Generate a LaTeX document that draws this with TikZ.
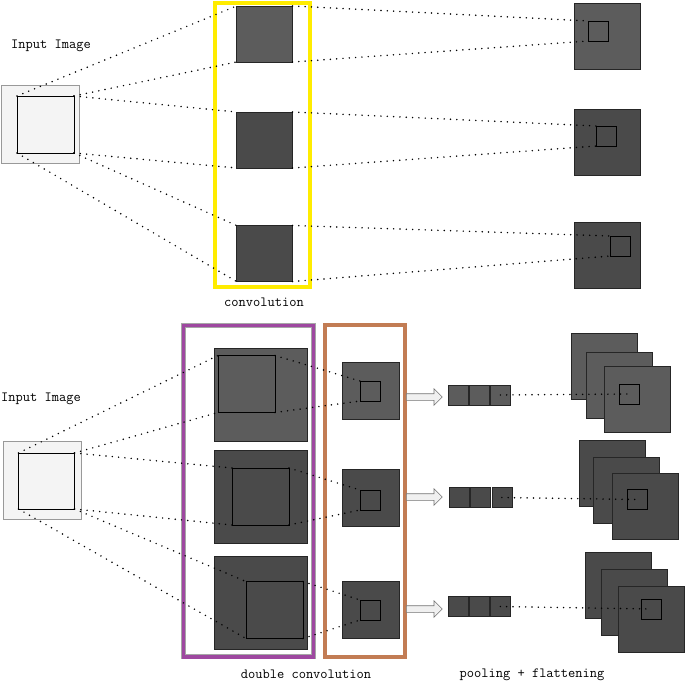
\documentclass[tikz,border=0pt]{standalone}
\usepackage{tikz}
\usetikzlibrary{positioning,shapes.arrows}
\definecolor{mapA}{RGB}{92,92,92}
\definecolor{mapB}{RGB}{74,74,74}
\definecolor{inputbg}{RGB}{244,244,244}
\definecolor{convyellow}{RGB}{255,236,0}
\definecolor{dconv}{RGB}{158,72,160}
\definecolor{poolframe}{RGB}{194,124,84}
\newcommand{\pix}{0.03cm}

\begin{document}
\begin{tikzpicture}[x=\pix,y=-\pix,
    sq/.style={inner sep=0pt,outer sep=0pt,minimum size=#1*\pix},
    inimg/.style={draw=gray!80,fill=inputbg,line width=0.7pt},
    fmap/.style={draw=black!85,fill=#1,line width=0.6pt},
    patch/.style={draw=black,line width=0.8pt},
    frame/.style={draw=gray!70,line width=0.4pt,double=#1,double distance=3.4pt,inner sep=0pt,outer sep=0pt},
    dots/.style={line width=1.4pt,line cap=round,dash pattern=on 0pt off 5.4pt},
    lbl/.style={font=\fontsize{12}{14}\selectfont\ttfamily},
    pool/.style={single arrow,draw=black!55,fill=gray!12,line width=0.5pt,inner sep=3*\pix,
      minimum height=36*\pix,single arrow head extend=5*\pix,anchor=tail}]
  \useasboundingbox (0,0) rectangle (685,682);

  % top: one convolution
  \node[lbl] (titleA) at (51,46) {Input Image};
  \node[sq=78,inimg] (imgA) at (40,124) {};
  \node[sq=57,patch] (winA) at (45.5,124.5) {};
  \node[frame=convyellow,minimum width=95*\pix,minimum height=284*\pix] (convbox) at (262.5,145) {};
  \node[sq=56,fmap=mapA] (c1) at (264.5,34) {};
  \node[sq=56,fmap=mapB] (c2) at (264.5,140) {};
  \node[sq=56,fmap=mapB] (c3) at (264.5,253.5) {};
  \node[lbl] (convlbl) at (264,302) {convolution};
  \node[sq=66,fmap=mapA] (f1) at (607,36) {};
  \node[sq=66,fmap=mapB] (f2) at (607,142) {};
  \node[sq=66,fmap=mapB] (f3) at (607,255.5) {};
  \node[sq=20,patch] (p1) at (598.5,31) {};
  \node[sq=20,patch] (p2) at (606.5,136) {};
  \node[sq=20,patch] (p3) at (620.5,246) {};

  \draw[dots] (winA.north west) -- (c1.north west);
  \draw[dots] (winA.north east) -- (c1.south west);
  \draw[dots] (winA.north east) -- (c2.north west);
  \draw[dots] (winA.south east) -- (c2.south west);
  \draw[dots] (winA.south east) -- (c3.north west);
  \draw[dots] (winA.south west) -- (c3.south west);
  \draw[dots] (c1.north east) -- (p1.north west);
  \draw[dots] (c1.south east) -- (p1.south west);
  \draw[dots] (c2.north east) -- (p2.north west);
  \draw[dots] (c2.south east) -- (p2.south west);
  \draw[dots] (c3.north east) -- (p3.north west);
  \draw[dots] (c3.south east) -- (p3.south west);

  % bottom: double convolution, pooling and flattening
  \node[lbl] (titleB) at (41,399) {Input Image};
  \node[sq=78,inimg] (imgB) at (42.5,480.5) {};
  \node[sq=56,patch] (winB) at (46.5,481) {};
  \node[frame=dconv,minimum width=130*\pix,minimum height=331*\pix] (dconvbox) at (248.5,491) {};
  \node[frame=poolframe,minimum width=80*\pix,minimum height=332*\pix] (poolbox) at (365,491) {};
  \node[sq=93,fmap=mapA] (b1) at (260.5,394.5) {};
  \node[sq=93,fmap=mapB] (b2) at (260.5,497) {};
  \node[sq=93,fmap=mapB] (b3) at (260.5,602.5) {};
  \node[sq=57,patch] (w1) at (246.5,384) {};
  \node[sq=57,patch] (w2) at (260.5,496.5) {};
  \node[sq=57,patch] (w3) at (274.5,610) {};
  \node[sq=57,fmap=mapA] (s1) at (370.5,391) {};
  \node[sq=57,fmap=mapB] (s2) at (370.5,497.5) {};
  \node[sq=57,fmap=mapB] (s3) at (370.5,610) {};
  \node[sq=20,patch] (q1) at (370,391) {};
  \node[sq=20,patch] (q2) at (370,500) {};
  \node[sq=20,patch] (q3) at (370,610) {};
  \node[lbl] (dconvlbl) at (306,674) {double convolution};

  \node[pool] (arr1) at (406,397) {};
  \node[pool] (arr2) at (406,497) {};
  \node[pool] (arr3) at (406,609) {};

  \node[sq=20,fmap=mapA] (v11) at (458,395) {};
  \node[sq=20,fmap=mapA,right=1pt of v11] (v12) {};
  \node[sq=20,fmap=mapA,right=1pt of v12] (v13) {};
  \node[sq=20,fmap=mapB] (v21) at (459.5,497.5) {};
  \node[sq=20,fmap=mapB,right=1pt of v21] (v22) {};
  \node[sq=20,fmap=mapB,right=1pt of v22] (v23) {};
  \node[sq=20,fmap=mapB] (v31) at (458,606.5) {};
  \node[sq=20,fmap=mapB,right=1pt of v31] (v32) {};
  \node[sq=20,fmap=mapB,right=1pt of v32] (v33) {};

  \node[sq=66,fmap=mapA] (m1a) at (604,366.5) {};
  \node[sq=66,fmap=mapA] (m1b) at (619,385) {};
  \node[sq=66,fmap=mapA] (m1c) at (637,399.5) {};
  \node[sq=20,patch] (k1) at (629,394) {};
  \node[sq=66,fmap=mapB] (m2a) at (612,473) {};
  \node[sq=66,fmap=mapB] (m2b) at (626.5,490.5) {};
  \node[sq=66,fmap=mapB] (m2c) at (645,506) {};
  \node[sq=20,patch] (k2) at (637,499.5) {};
  \node[sq=66,fmap=mapB] (m3a) at (618,585.5) {};
  \node[sq=66,fmap=mapB] (m3b) at (634,602.5) {};
  \node[sq=66,fmap=mapB] (m3c) at (651,619) {};
  \node[sq=20,patch] (k3) at (651,609) {};
  \node[lbl] (poollbl) at (532,675) {pooling + flattening};

  \draw[dots] (winB.north west) -- (w1.north west);
  \draw[dots] (winB.north east) -- (w1.south west);
  \draw[dots] (winB.north east) -- (w2.north west);
  \draw[dots] (winB.south east) -- (w2.south west);
  \draw[dots] (winB.south east) -- (w3.north west);
  \draw[dots] (winB.south west) -- (w3.south west);
  \draw[dots] (w1.north east) -- (q1.north west);
  \draw[dots] (w1.south east) -- (q1.south west);
  \draw[dots] (w2.north east) -- (q2.north west);
  \draw[dots] (w2.south east) -- (q2.south west);
  \draw[dots] (w3.north east) -- (q3.north west);
  \draw[dots] (w3.south east) -- (q3.south west);
  \draw[dots] (v13.center) -- (k1.center);
  \draw[dots] (v23.center) -- (k2.center);
  \draw[dots] (v33.center) -- (k3.center);
\end{tikzpicture}
\end{document}
